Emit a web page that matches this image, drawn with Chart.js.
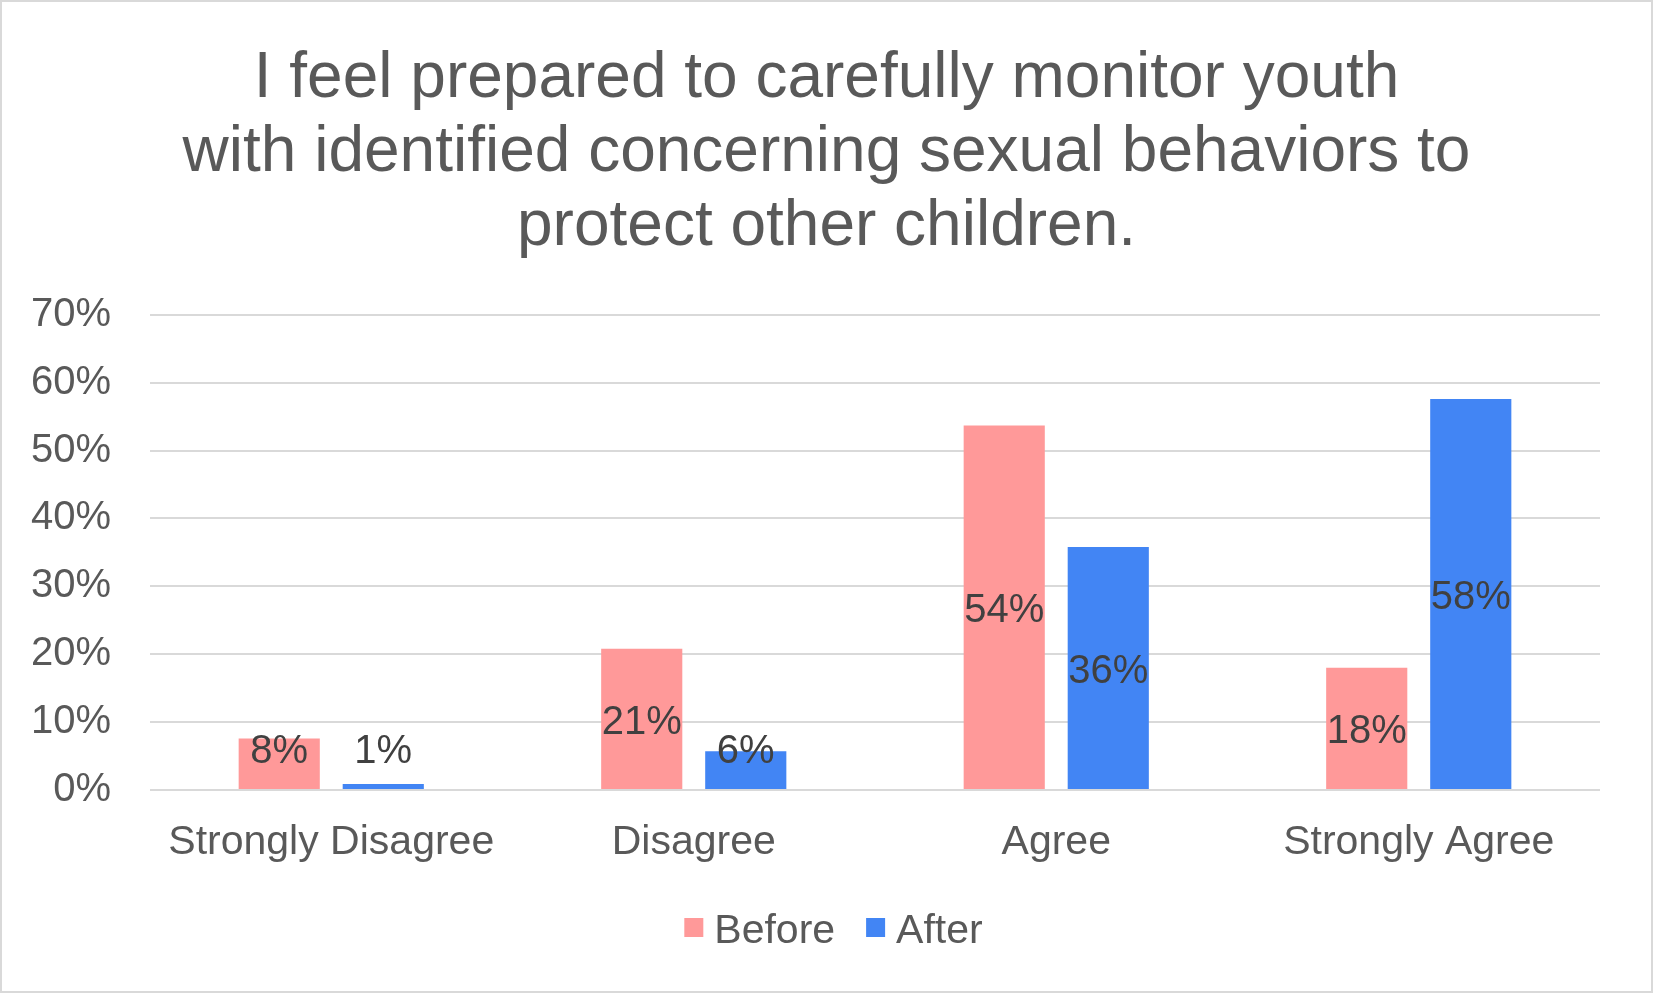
<!DOCTYPE html>
<html>
<head>
<meta charset="utf-8">
<script src="https://cdn.jsdelivr.net/npm/chart.js@4"></script>
<style>
  html, body { margin: 0; padding: 0; background: #ffffff; }
  #wrap { position: relative; width: 1653px; height: 993px; }
  #frame { position: absolute; left: 0; top: 0; width: 1653px; height: 993px; box-sizing: border-box; border: 2px solid #d9d9d9; pointer-events: none; }
  canvas { display: block; }
</style>
</head>
<body>
<div id="wrap">
  <canvas id="c" width="1653" height="993"></canvas>
  <div id="frame"></div>
</div>
<script>
const titleLines = ["I feel prepared to carefully monitor youth", "with identified concerning sexual behaviors to", "protect other children."];
const categories = ["Strongly Disagree", "Disagree", "Agree", "Strongly Agree"];
const beforeValues = [7.6, 20.8, 53.7, 18.0];
const afterValues = [0.9, 5.7, 35.8, 57.6];
const seriesNames = ["Before", "After"];
const seriesColors = ["#FF9999", "#4285F4"];
const tickMax = 70;
const tickStep = 10;

const FONT = "'Liberation Sans', Arial, sans-serif";

const labelPlugin = {
  id: 'barLabels',
  afterDatasetsDraw(chart) {
    const ctx = chart.ctx;
    ctx.save();
    ctx.font = '40px ' + FONT;
    ctx.fillStyle = '#404040';
    ctx.textAlign = 'center';
    ctx.textBaseline = 'alphabetic';
    chart.data.datasets.forEach((ds, di) => {
      const meta = chart.getDatasetMeta(di);
      meta.data.forEach((bar, i) => {
        const p = bar.getProps(['x', 'y', 'base'], true);
        let cy = (p.y + p.base) / 2;
        cy = Math.min(cy, p.base - 41);
        ctx.fillText(Math.round(ds.data[i]) + '%', p.x, cy + 15);
      });
    });
    ctx.restore();
  }
};

const legendPlugin = {
  id: 'customLegend',
  afterDraw(chart) {
    const ctx = chart.ctx;
    ctx.save();
    ctx.font = '41px ' + FONT;
    const box = 19, gap = 11, spacing = 31;
    const items = chart.data.datasets.map(ds => ({ text: ds.label, color: ds.backgroundColor, w: ctx.measureText(ds.label).width }));
    let total = 0;
    items.forEach((it, i) => { total += box + gap + it.w + (i < items.length - 1 ? spacing : 0); });
    const cx = chart.width / 2 + 7;
    const cy = 927.5;
    let x = cx - total / 2;
    items.forEach((it) => {
      ctx.fillStyle = it.color;
      ctx.fillRect(x, cy - box / 2, box, box);
      x += box + gap;
      ctx.fillStyle = '#595959';
      ctx.textAlign = 'left';
      ctx.textBaseline = 'alphabetic';
      ctx.fillText(it.text, x, cy + 15);
      x += it.w + spacing;
    });
    ctx.restore();
  }
};

new Chart(document.getElementById('c'), {
  type: 'bar',
  data: {
    labels: categories,
    datasets: [
      { label: seriesNames[0], data: beforeValues, backgroundColor: seriesColors[0], categoryPercentage: 0.574, barPercentage: 0.78, yAxisID: 'y' },
      { label: seriesNames[1], data: afterValues, backgroundColor: seriesColors[1], categoryPercentage: 0.574, barPercentage: 0.78, yAxisID: 'y' }
    ]
  },
  options: {
    responsive: false,
    animation: false,
    devicePixelRatio: 1,
    layout: { padding: { left: 0, right: 0, top: 0, bottom: 96 } },
    plugins: {
      title: {
        display: true,
        text: titleLines,
        color: '#595959',
        font: { family: FONT, size: 64, weight: 'normal', lineHeight: 1.15 },
        padding: { top: 43, bottom: 51 }
      },
      legend: { display: false },
      tooltip: { enabled: false }
    },
    scales: {
      x: {
        grid: { display: false },
        border: { display: false },
        ticks: { color: '#595959', font: { family: FONT, size: 41 }, padding: 20, maxRotation: 0 },
        afterFit(scale) { scale.height = 107; }
      },
      y: {
        min: 0,
        max: tickMax,
        grid: { color: '#d9d9d9', lineWidth: 2, drawTicks: false },
        border: { display: false },
        ticks: {
          stepSize: tickStep,
          color: '#595959',
          font: { family: FONT, size: 40 },
          padding: 39,
          callback: (v) => v + '%'
        },
        afterFit(scale) { scale.width = 150; }
      },
      y2: {
        position: 'right',
        display: true,
        grid: { display: false, drawTicks: false },
        border: { display: false },
        ticks: { display: false },
        afterFit(scale) { scale.width = 53; }
      }
    }
  },
  plugins: [labelPlugin, legendPlugin]
});
</script>
</body>
</html>
